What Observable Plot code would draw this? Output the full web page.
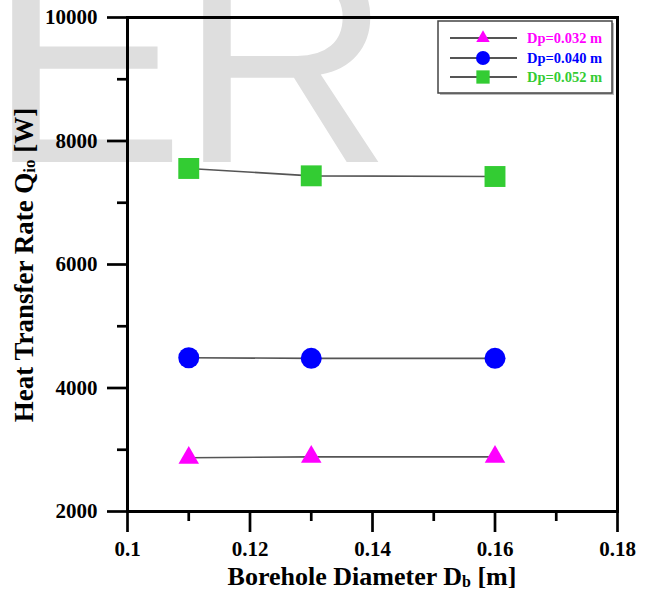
<!DOCTYPE html>
<html><head><meta charset="utf-8">
<script src="https://cdn.jsdelivr.net/npm/d3@7"></script>
<script src="https://cdn.jsdelivr.net/npm/@observablehq/plot@0.6"></script>
<style>html,body{margin:0;padding:0;background:#fff}</style>
</head><body><div id="chart"></div>
<script>
const boreholeDiameters = [0.11, 0.13, 0.16];
const seriesNames = ["Dp=0.032 m", "Dp=0.040 m", "Dp=0.052 m"];
const q032 = [2870, 2885, 2885];
const q040 = [4490, 4480, 4480];
const q052 = [7555, 7436, 7425];
const seriesColors = ["#ff00ff", "#0000ff", "#33cc33"];
const seriesSymbols = ["triangle", "circle", "square"];
const seriesRadius = [7.6, 10.5, 11.8];
const xTicks = [0.1, 0.12, 0.14, 0.16, 0.18];
const xMinorTicks = [0.11, 0.13, 0.15, 0.17];
const yTicks = [2000, 4000, 6000, 8000, 10000];
const yMinorTicks = [3000, 5000, 7000, 9000];
const watermark = ["E", "R"];

const seriesValues = [q032, q040, q052];
const data = [];
seriesNames.forEach((s, i) => boreholeDiameters.forEach((d, j) => data.push({series: s, idx: i, d, q: seriesValues[i][j]})));

const serif = "'Liberation Serif','Times New Roman',serif";
const W = 647, H = 595;
const mL = 127, mR = 30, mT = 17, mB = 84;

const svg = Plot.plot({
  width: W, height: H,
  marginLeft: mL, marginRight: mR, marginTop: mT, marginBottom: mB,
  style: {fontFamily: serif, background: "transparent", overflow: "visible"},
  x: {domain: [0.1, 0.18]},
  y: {domain: [2000, 10000]},
  marks: [
    Plot.line(data, {x: "d", y: "q", z: "series", stroke: "#555", strokeWidth: 1.6}),
    ...seriesNames.map((s, i) => Plot.dot(data.filter(r => r.idx === i), {
      x: "d", y: "q", symbol: () => seriesSymbols[i], fill: seriesColors[i], stroke: "none", r: seriesRadius[i]
    })),
    Plot.axisX({ticks: xTicks, tickSize: 21, tickPadding: 9, strokeWidth: 2.7, fontSize: 21, fontWeight: "bold",
      fill: "black", tickFormat: d => String(+d.toFixed(2)), label: null}),
    Plot.axisX({ticks: xMinorTicks, tickSize: 10, strokeWidth: 2.7, text: null, label: null}),
    Plot.axisY({ticks: yTicks, tickSize: 20, tickPadding: 10, strokeWidth: 2.7, fontSize: 21, fontWeight: "bold",
      fill: "black", tickFormat: d3.format("d"), label: null}),
    Plot.axisY({ticks: yMinorTicks, tickSize: 10, strokeWidth: 2.7, text: null, label: null}),
    Plot.frame({stroke: "black", strokeWidth: 3})
  ]
});

const s = d3.select(svg);
// watermark behind everything
const wm = s.insert("g", ":first-child").attr("font-family", "'Liberation Sans',Arial,sans-serif")
  .attr("font-size", 295).attr("fill", "#dedede").attr("text-anchor", "start");
wm.append("text").attr("x", -12).attr("y", 162).text(watermark[0]);
wm.append("text").attr("x", 179).attr("y", 162).text(watermark[1]);

// axis titles
const xt = s.append("text").attr("x", (mL + W - mR) / 2).attr("y", 585)
  .attr("text-anchor", "middle").attr("font-family", serif).attr("font-weight", "bold")
  .attr("font-size", 26).attr("fill", "black");
xt.append("tspan").text("Borehole Diameter D");
xt.append("tspan").attr("font-size", 16).attr("dy", 2).text("b");
xt.append("tspan").attr("dy", -2).text(" [m]");

const yt = s.append("text").attr("transform", `translate(33,265) rotate(-90)`)
  .attr("text-anchor", "middle").attr("font-family", serif).attr("font-weight", "bold")
  .attr("font-size", 27).attr("fill", "black");
yt.append("tspan").text("Heat Transfer Rate Q");
yt.append("tspan").attr("font-size", 17).attr("dy", 2).text("io");
yt.append("tspan").attr("dy", -2).text(" [W]");

// legend
const lg = s.append("g").attr("text-anchor", "start");
lg.append("rect").attr("x", 440).attr("y", 23).attr("width", 174).attr("height", 72).attr("fill", "#bbb");
lg.append("rect").attr("x", 438).attr("y", 21).attr("width", 174).attr("height", 72)
  .attr("fill", "white").attr("stroke", "#444").attr("stroke-width", 1.5);
const rowsY = [38, 58, 77];
const legR = [5, 7, 7.5];
seriesNames.forEach((name, i) => {
  const y = rowsY[i];
  lg.append("line").attr("x1", 450).attr("x2", 517).attr("y1", y).attr("y2", y)
    .attr("stroke", "#555").attr("stroke-width", 1.8);
  lg.append("path").attr("transform", `translate(483,${y})`)
    .attr("d", d3.symbol(seriesSymbols[i] === "triangle" ? d3.symbolTriangle : seriesSymbols[i] === "circle" ? d3.symbolCircle : d3.symbolSquare, Math.PI * legR[i] * legR[i])())
    .attr("fill", seriesColors[i]);
  lg.append("text").attr("x", 527).attr("y", y).attr("dy", "0.35em")
    .attr("font-family", serif).attr("font-weight", "bold").attr("font-size", 14.5)
    .attr("fill", seriesColors[i]).text(name);
});

document.getElementById("chart").appendChild(svg);
</script>
</body></html>
